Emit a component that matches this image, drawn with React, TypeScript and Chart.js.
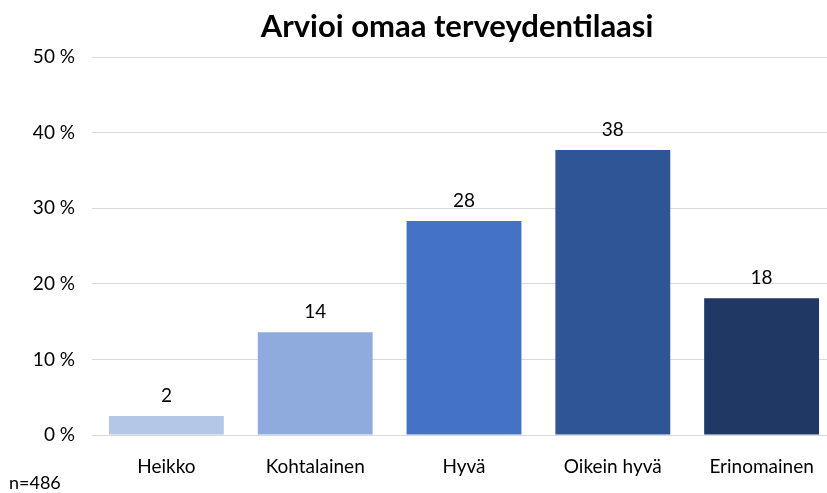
import React, { useEffect, useRef } from "react";
import { Chart, registerables } from "chart.js";

Chart.register(...registerables);

const categories = ["Heikko", "Kohtalainen", "Hyvä", "Oikein hyvä", "Erinomainen"];
const values = [2.5, 13.6, 28.3, 37.7, 18.1];
const labels = ["2", "14", "28", "38", "18"];
const colors = ["#B4C7E7", "#8FAADC", "#4472C4", "#2F5597", "#203864"];
const titleText = "Arvioi omaa terveydentilaasi";
const noteText = "n=486";
const FONT = "Lato, 'Open Sans', sans-serif";

export default function App() {
  const ref = useRef<HTMLCanvasElement | null>(null);
  useEffect(() => {
    document.body.style.margin = "0";
    const overlay = {
      id: "overlay",
      afterDatasetsDraw(chart: any) {
        const ctx = chart.ctx;
        const meta = chart.getDatasetMeta(0);
        ctx.save();
        ctx.fillStyle = "#000";
        ctx.font = `19px ${FONT}`;
        ctx.textAlign = "center";
        ctx.textBaseline = "middle";
        meta.data.forEach((bar: any, i: number) => {
          ctx.fillText(labels[i], bar.x, bar.y - 20);
        });
        ctx.font = `bold 31px ${FONT}`;
        ctx.fillText(titleText, 457, 27);
        ctx.textAlign = "left";
        ctx.font = `18px ${FONT}`;
        ctx.fillText(noteText, 9, 483);
        ctx.restore();
      },
    };
    const chart = new Chart(ref.current!, {
      type: "bar",
      data: {
        labels: categories,
        datasets: [
          {
            data: values,
            backgroundColor: colors,
            categoryPercentage: 1,
            barPercentage: 0.772,
          },
        ],
      },
      options: {
        animation: false,
        responsive: false,
        layout: { padding: { top: 57, right: 1, left: 0, bottom: 0 } },
        plugins: { legend: { display: false }, tooltip: { enabled: false }, title: { display: false } },
        scales: {
          x: {
            grid: { display: false, drawTicks: false },
            border: { display: true, color: "#D9D9D9", width: 1 },
            ticks: { color: "#000", font: { size: 19, family: FONT }, padding: 20 },
            afterFit(scale: any) {
              scale.height = 58;
            },
          },
          y: {
            min: 0,
            max: 50,
            ticks: {
              stepSize: 10,
              color: "#000",
              font: { size: 19, family: FONT },
              padding: 17,
              callback: (v: any) => `${v} %`,
            },
            grid: { color: "#D9D9D9", lineWidth: 1, drawTicks: false },
            border: { display: false },
            afterFit(scale: any) {
              scale.width = 92;
            },
          },
        },
      },
      plugins: [overlay],
    });
    return () => chart.destroy();
  }, []);
  return (
    <div style={{ position: "fixed", left: 0, top: 0, width: 827, height: 493, overflow: "hidden", background: "#fff" }}>
      <canvas ref={ref} width={837} height={493} style={{ width: 837, height: 493 }} />
    </div>
  );
}
